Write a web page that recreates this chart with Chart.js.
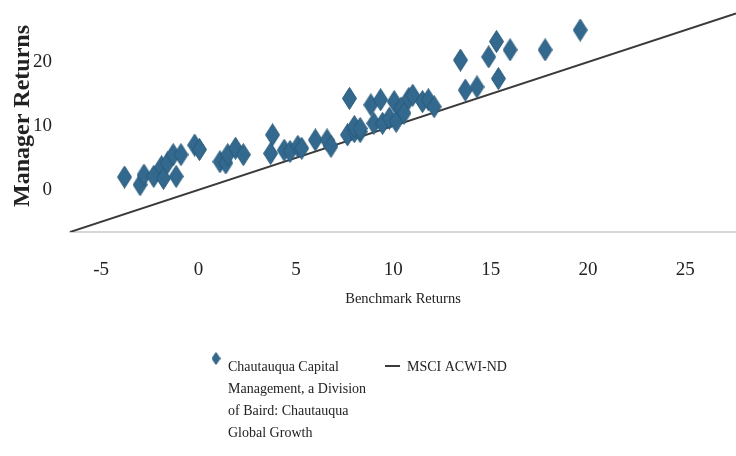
<!DOCTYPE html>
<html>
<head>
<meta charset="utf-8">
<script src="https://cdn.jsdelivr.net/npm/chart.js@4"></script>
<style>
  html, body { margin: 0; padding: 0; background: #fff; }
  #wrap { width: 736px; height: 456px; }
</style>
</head>
<body>
<div id="wrap"><canvas id="grafico" width="736" height="456"></canvas></div>
<script>
// valores
const xTicks = [-5, 0, 5, 10, 15, 20, 25];
const yTicks = [0, 10, 20];

const managerX = [-3.8, -3.0, -2.8, -2.3, -1.9, -1.8, -1.6, -1.3, -1.15, -0.9, -0.2, 0.05,
  1.1, 1.4, 1.5, 1.9, 2.3, 3.8, 3.7, 4.4, 4.7, 5.1, 5.3, 6.0, 6.6, 6.8, 7.65, 8.0, 8.3,
  7.75, 8.0, 8.3, 8.85, 9.0, 9.35, 9.45, 9.8, 10.05, 10.15, 10.4, 10.55, 10.8, 11.0, 11.5, 11.8, 12.1,
  13.45, 13.7, 14.3, 14.9, 15.3, 15.4, 16.0, 17.8, 19.6];
const managerY = [2.0, 0.8, 2.3, 2.1, 3.6, 1.8, 4.2, 5.5, 2.1, 5.5, 7.0, 6.3,
  4.4, 4.2, 5.5, 6.5, 5.5, 8.6, 5.7, 6.2, 6.0, 6.8, 6.5, 7.8, 7.8, 6.8, 8.6, 9.1, 9.1,
  14.3, 9.9, 9.6, 13.3, 10.4, 14.1, 10.4, 11.2, 13.8, 10.7, 12.8, 12.0, 14.3, 14.8, 13.8, 14.1, 13.0,
  20.3, 15.6, 16.1, 20.8, 23.2, 17.4, 21.9, 21.9, 25.0];

const benchX = [-6.6, 27.6];
const benchY = [-6.6, 27.6];

const managerLabel = ['Chautauqua Capital', 'Management, a Division', 'of Baird: Chautauqua', 'Global Growth'];
const benchLabel = 'MSCI ACWI-ND';

const serif = "'Liberation Serif', 'Times New Roman', serif";
const textColor = '#222';
const azul = '#33698e';
const cinzaLinha = '#3a3a3a';

// losango alto (a forma dos marcadores)
function losango(w, h) {
  const c = document.createElement('canvas');
  c.width = w; c.height = h;
  const g = c.getContext('2d');
  g.beginPath();
  g.moveTo(w / 2, 0.5);
  g.lineTo(w - 0.5, h / 2);
  g.lineTo(w / 2, h - 0.5);
  g.lineTo(0.5, h / 2);
  g.closePath();
  g.fillStyle = azul;
  g.fill();
  g.strokeStyle = '#2a5b7b';
  g.lineWidth = 1;
  g.stroke();
  return c;
}
const marcador = losango(15, 23);
const marcadorLegenda = losango(9, 13);

// legenda desenhada à mão (o texto da primeira série quebra em 4 linhas)
const legendaManual = {
  id: 'legendaManual',
  afterDraw(chart) {
    const g = chart.ctx;
    const x0 = chart.width / 2 - 152;
    const y0 = 367;
    g.save();
    g.font = '14px ' + serif;
    g.fillStyle = textColor;
    g.textBaseline = 'middle';
    g.drawImage(marcadorLegenda, x0 - 4.5, y0 - 15);
    managerLabel.forEach((t, i) => g.fillText(t, x0 + 12, y0 + i * 22));
    g.strokeStyle = cinzaLinha;
    g.lineWidth = 2;
    g.beginPath();
    g.moveTo(x0 + 169, y0 - 1);
    g.lineTo(x0 + 184, y0 - 1);
    g.stroke();
    g.fillText(benchLabel, x0 + 191, y0);
    g.restore();
  }
};

const ctx = document.getElementById('grafico').getContext('2d');
new Chart(ctx, {
  type: 'scatter',
  data: {
    datasets: [{
      label: managerLabel.join(' '),
      data: managerX.map((x, i) => ({ x, y: managerY[i] })),
      pointStyle: marcador,
      backgroundColor: azul,
      borderColor: '#2a5b7b'
    }, {
      label: benchLabel,
      data: benchX.map((x, i) => ({ x, y: benchY[i] })),
      showLine: true,
      pointRadius: 0,
      borderColor: cinzaLinha,
      borderWidth: 2
    }]
  },
  options: {
    responsive: false,
    animation: false,
    layout: { autoPadding: false, padding: { top: 0, right: 0, bottom: 113, left: 0 } },
    plugins: {
      tooltip: { enabled: false },
      legend: { display: false }
    },
    scales: {
      x: {
        type: 'linear',
        min: -6.6,
        max: 27.6,
        afterBuildTicks: scale => { scale.ticks = xTicks.map(v => ({ value: v })); },
        afterFit: scale => {
          scale.height = 111;
          scale.paddingLeft = 0;
          scale.paddingRight = 0;
        },
        grid: { display: false, drawTicks: false },
        border: { display: true, color: '#d6d6d6', width: 2 },
        ticks: { color: textColor, padding: 27, font: { family: serif, size: 19 } },
        title: {
          display: true,
          text: 'Benchmark Returns',
          color: textColor,
          font: { family: serif, size: 14.5 },
          padding: { top: 10, bottom: 35 }
        }
      },
      y: {
        type: 'linear',
        min: -6.6,
        max: 29.7,
        afterBuildTicks: scale => { scale.ticks = yTicks.map(v => ({ value: v })); },
        afterFit: scale => {
          scale.width = 70;
          scale.paddingTop = 0;
          scale.paddingBottom = 0;
        },
        grid: { display: false, drawTicks: false },
        border: { display: false },
        ticks: { color: textColor, padding: 18, font: { family: serif, size: 19 } },
        title: {
          display: true,
          text: 'Manager Returns',
          color: textColor,
          font: { family: serif, size: 24, weight: 'bold' },
          padding: { top: 8, bottom: 0 }
        }
      }
    }
  },
  plugins: [legendaManual]
});
</script>
</body>
</html>
